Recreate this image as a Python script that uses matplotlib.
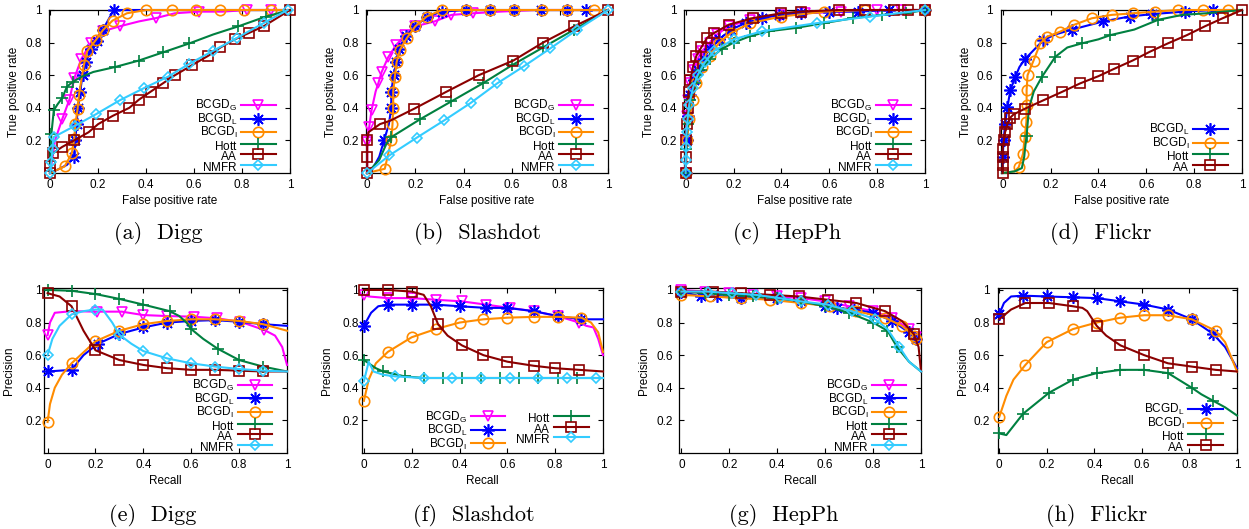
import matplotlib
matplotlib.use('Agg')
import matplotlib.pyplot as plt
from matplotlib.lines import Line2D

plt.rcParams['font.family'] = ['Liberation Sans', 'DejaVu Sans']

# ---------------- labels ----------------
LABELS = {'G': r'BCGD$_\mathregular{G}$', 'L': r'BCGD$_\mathregular{L}$',
          'I': r'BCGD$_\mathregular{I}$', 'H': r'Hott$_{\,}$', 'A': r'AA$_{\,}$',
          'N': r'NMFR$_{\,}$'}
captions = ['(a)  Digg', '(b)  Slashdot', '(c)  HepPh', '(d)  Flickr',
            '(e)  Digg', '(f)  Slashdot', '(g)  HepPh', '(h)  Flickr']
tick_vals = [0, 0.2, 0.4, 0.6, 0.8, 1]
tick_labels = ['0', '0.2', '0.4', '0.6', '0.8', '1']
ytick_vals = [0.2, 0.4, 0.6, 0.8, 1]
ytick_labels = ['0.2', '0.4', '0.6', '0.8', '1']

# ---------------- (a) Digg ROC ----------------
a_G_x = [0, 0.02, 0.05, 0.08, 0.1, 0.13, 0.17, 0.22, 0.29, 0.37, 0.44, 0.52, 0.62, 0.72, 0.82, 0.92, 1]
a_G_y = [0, 0.2, 0.33, 0.45, 0.58, 0.7, 0.8, 0.87, 0.9, 0.93, 0.95, 0.98, 0.99, 0.99, 1, 1, 1]
a_G_m = [2, 3, 4, 5, 6, 7, 8, 10, 12, 14, 15]
a_L_x = [0, 0.03, 0.07, 0.1, 0.105, 0.11, 0.115, 0.125, 0.135, 0.15, 0.17, 0.195, 0.22, 0.265, 0.4, 0.6, 0.8, 1]
a_L_y = [0, 0.02, 0.05, 0.1, 0.2, 0.3, 0.4, 0.5, 0.6, 0.68, 0.76, 0.81, 0.88, 1, 1, 1, 1, 1]
a_L_m = [3, 4, 5, 6, 7, 8, 9, 10, 11, 12, 13]
a_I_x = [0, 0.06, 0.09, 0.1, 0.105, 0.114, 0.12, 0.14, 0.155, 0.19, 0.22, 0.26, 0.32, 0.4, 0.51, 0.61, 0.71, 0.81, 0.92, 1]
a_I_y = [0, 0.04, 0.12, 0.21, 0.3, 0.39, 0.48, 0.66, 0.75, 0.815, 0.877, 0.935, 0.98, 1, 1, 1, 1, 1, 1, 1]
a_I_m = list(range(1, 19))
a_H_x = [0, 0, 0.005, 0.015, 0.03, 0.05, 0.07, 0.095, 0.13, 0.18, 0.27, 0.37, 0.47, 0.58, 0.68, 0.785, 0.9, 1]
a_H_y = [0, 0.1, 0.24, 0.385, 0.42, 0.46, 0.53, 0.56, 0.59, 0.62, 0.65, 0.69, 0.74, 0.795, 0.85, 0.9, 0.96, 1]
a_H_m = [2, 3, 5, 6, 7, 10, 11, 12, 13, 15, 16]
a_A_x = [0, 0, 0.01, 0.05, 0.1, 0.16, 0.2, 0.26, 0.33, 0.37, 0.42, 0.47, 0.52, 0.59, 0.66, 0.71, 0.77, 0.83, 0.89, 1]
a_A_y = [0, 0.04, 0.12, 0.16, 0.2, 0.25, 0.3, 0.35, 0.4, 0.45, 0.5, 0.55, 0.6, 0.66, 0.72, 0.77, 0.82, 0.86, 0.9, 1]
a_N_x = [0, 0.005, 0.01, 0.014, 0.104, 0.19, 0.29, 0.39, 0.49, 0.58, 0.68, 0.78, 0.89, 0.99]
a_N_y = [0, 0.07, 0.15, 0.22, 0.29, 0.36, 0.446, 0.52, 0.59, 0.67, 0.75, 0.83, 0.92, 1]

# ---------------- (b) Slashdot ROC ----------------
b_G_x = [0, 0, 0.008, 0.018, 0.035, 0.046, 0.06, 0.087, 0.12, 0.157, 0.2, 0.28, 0.35, 0.44, 0.55, 0.7, 1]
b_G_y = [0, 0.19, 0.28, 0.385, 0.5, 0.55, 0.62, 0.71, 0.785, 0.846, 0.9, 0.93, 0.97, 0.98, 0.99, 1, 1]
b_G_m = [1, 2, 3, 5, 6, 7, 8, 9, 10, 11, 12, 13]
b_L_x = [0, 0.02, 0.05, 0.07, 0.09, 0.1, 0.1, 0.11, 0.12, 0.13, 0.16, 0.2, 0.25, 0.31, 0.41, 0.51, 0.61, 0.72, 0.83, 0.91, 1]
b_L_y = [0, 0.02, 0.1, 0.2, 0.3, 0.4, 0.5, 0.6, 0.68, 0.76, 0.84, 0.9, 0.96, 0.99, 1, 1, 1, 1, 1, 1, 1]
b_L_m = [3] + list(range(5, 20))
b_I_x = [0, 0.073, 0.1, 0.105, 0.108, 0.108, 0.115, 0.122, 0.136, 0.164, 0.2, 0.247, 0.31, 0.41, 0.51, 0.61, 0.725, 0.83, 0.94, 1]
b_I_y = [0, 0.026, 0.2, 0.3, 0.4, 0.5, 0.59, 0.68, 0.755, 0.826, 0.9, 0.96, 1, 1, 1, 1, 1, 1, 1, 1]
b_I_m = list(range(1, 19))
b_H_x = [0, 0.05, 0.08, 0.1, 0.22, 0.35, 0.48, 0.6, 0.73, 0.86, 1]
b_H_y = [0, 0.08, 0.18, 0.22, 0.33, 0.44, 0.55, 0.66, 0.77, 0.88, 1]
b_H_m = [3, 4, 5, 6, 7, 8, 9]
b_A_x = [0, 0, 0, 0.005, 0.053, 0.094, 0.196, 0.327, 0.463, 0.607, 0.73, 0.86, 1]
b_A_y = [0, 0.1, 0.2, 0.25, 0.3, 0.32, 0.395, 0.497, 0.6, 0.69, 0.8, 0.9, 1]
b_A_m = [0, 1, 2, 4, 6, 7, 8, 9, 10, 11, 12]
b_N_x = [0, 0.092, 0.205, 0.32, 0.43, 0.54, 0.653, 0.76, 0.87, 1]
b_N_y = [0, 0.108, 0.216, 0.323, 0.43, 0.55, 0.657, 0.764, 0.877, 1]

# ---------------- (c) HepPh ROC ----------------
c_G_x = [0, 0.002, 0.005, 0.01, 0.02, 0.035, 0.05, 0.07, 0.1, 0.13, 0.18, 0.27, 0.4, 0.5, 0.65, 0.8, 0.9, 1]
c_G_y = [0, 0.2, 0.35, 0.45, 0.55, 0.63, 0.7, 0.75, 0.8, 0.85, 0.9, 0.94, 0.97, 0.98, 0.99, 1, 1, 1]
c_L_x = [0, 0.004, 0.01, 0.02, 0.035, 0.05, 0.075, 0.1, 0.14, 0.19, 0.25, 0.32, 0.39, 0.48, 0.6, 0.72, 0.85, 1]
c_L_y = [0, 0.2, 0.35, 0.48, 0.57, 0.63, 0.7, 0.76, 0.82, 0.88, 0.92, 0.95, 0.97, 0.98, 0.99, 0.99, 1, 1]
c_I_x = [0, 0.005, 0.015, 0.03, 0.045, 0.07, 0.1, 0.14, 0.19, 0.27, 0.4, 0.58, 0.75, 1]
c_I_y = [0, 0.2, 0.33, 0.45, 0.55, 0.65, 0.72, 0.8, 0.86, 0.92, 0.96, 0.99, 1, 1]
c_H_x = [0, 0.003, 0.008, 0.02, 0.04, 0.065, 0.1, 0.15, 0.2, 0.27, 0.35, 0.46, 0.58, 0.7, 0.82, 0.92, 1]
c_H_y = [0, 0.15, 0.3, 0.45, 0.55, 0.63, 0.7, 0.76, 0.8, 0.84, 0.87, 0.89, 0.92, 0.95, 0.97, 0.98, 1]
c_A_x = [0, 0, 0.002, 0.004, 0.008, 0.012, 0.02, 0.03, 0.045, 0.065, 0.09, 0.12, 0.18, 0.28, 0.4, 0.48, 0.64, 0.75, 0.87, 0.93, 1]
c_A_y = [0, 0.1, 0.2, 0.3, 0.4, 0.5, 0.57, 0.65, 0.72, 0.77, 0.83, 0.86, 0.91, 0.95, 0.98, 0.99, 1, 1, 1, 1, 1]
c_N_x = [0, 0, 0.002, 0.004, 0.008, 0.015, 0.03, 0.05, 0.08, 0.12, 0.2, 0.32, 0.55, 0.77, 1]
c_N_y = [0, 0.08, 0.16, 0.25, 0.33, 0.42, 0.52, 0.6, 0.68, 0.75, 0.82, 0.87, 0.92, 0.96, 1]

# ---------------- (d) Flickr ROC ----------------
d_L_x = [0, 0, 0.004, 0.01, 0.02, 0.032, 0.053, 0.07, 0.094, 0.17, 0.22, 0.29, 0.42, 0.53, 0.626, 0.76, 0.88, 1]
d_L_y = [0, 0.1, 0.2, 0.3, 0.405, 0.508, 0.59, 0.65, 0.7, 0.815, 0.85, 0.88, 0.93, 0.96, 0.975, 0.99, 1, 1]
d_L_m = [1, 2, 3, 4, 5, 6, 8, 9, 11, 12, 13, 14, 15, 16]
d_I_x = [0, 0.05, 0.067, 0.085, 0.092, 0.099, 0.1, 0.1, 0.104, 0.129, 0.157, 0.185, 0.24, 0.296, 0.372, 0.455, 0.546, 0.636, 0.733, 0.837, 0.94, 1]
d_I_y = [0, 0.01, 0.036, 0.118, 0.22, 0.313, 0.415, 0.508, 0.6, 0.69, 0.795, 0.836, 0.867, 0.908, 0.949, 0.97, 0.98, 0.99, 1, 1, 1, 1]
d_I_m = list(range(2, 21))
d_H_x = [0, 0.05, 0.08, 0.09, 0.095, 0.1, 0.11, 0.13, 0.164, 0.22, 0.27, 0.33, 0.4, 0.45, 0.55, 0.65, 0.75, 0.85, 1]
d_H_y = [0, 0.01, 0.03, 0.1, 0.17, 0.23, 0.4, 0.5, 0.59, 0.713, 0.77, 0.795, 0.82, 0.846, 0.88, 0.94, 0.97, 0.98, 1]
d_H_m = [5, 8, 9, 11, 13, 15]
d_A_x = [0, 0, 0, 0, 0.005, 0.01, 0.02, 0.032, 0.046, 0.094, 0.17, 0.247, 0.324, 0.4, 0.467, 0.543, 0.615, 0.69, 0.77, 0.845, 0.92, 1]
d_A_y = [0, 0.05, 0.1, 0.15, 0.2, 0.25, 0.3, 0.34, 0.36, 0.395, 0.446, 0.497, 0.55, 0.594, 0.64, 0.69, 0.744, 0.795, 0.846, 0.9, 0.95, 1]

# ---------------- (e) Digg PR ----------------
e_G_x = [0, 0.01, 0.03, 0.1, 0.205, 0.31, 0.4, 0.5, 0.61, 0.707, 0.805, 0.906, 0.95, 0.98, 1]
e_G_y = [0.723, 0.8, 0.86, 0.87, 0.867, 0.867, 0.846, 0.84, 0.836, 0.826, 0.805, 0.754, 0.72, 0.65, 0.54]
e_G_m = [0, 4, 5, 6, 7, 8, 9, 10, 11]
e_L_x = [0, 0.1, 0.15, 0.21, 0.3, 0.4, 0.5, 0.6, 0.7, 0.8, 0.9, 1]
e_L_y = [0.5, 0.51, 0.6, 0.67, 0.73, 0.77, 0.8, 0.81, 0.815, 0.805, 0.79, 0.78]
e_L_m = [0, 1, 3, 4, 5, 6, 7, 8, 9, 10]
e_I_x = [0, 0.01, 0.03, 0.06, 0.1, 0.2, 0.3, 0.4, 0.5, 0.6, 0.7, 0.8, 0.9, 1]
e_I_y = [0.19, 0.3, 0.4, 0.48, 0.55, 0.685, 0.75, 0.79, 0.81, 0.82, 0.82, 0.81, 0.79, 0.75]
e_I_m = [0, 4, 5, 6, 7, 8, 9, 10, 11, 12]
e_H_x = [0, 0.1, 0.2, 0.3, 0.4, 0.51, 0.55, 0.58, 0.6, 0.65, 0.71, 0.8, 0.9, 1]
e_H_y = [1, 0.995, 0.975, 0.945, 0.91, 0.87, 0.84, 0.8, 0.76, 0.7, 0.64, 0.57, 0.53, 0.5]
e_H_m = [0, 1, 2, 3, 4, 5, 8, 10, 11, 12]
e_A_x = [0, 0.05, 0.1, 0.15, 0.2, 0.3, 0.4, 0.5, 0.6, 0.7, 0.8, 0.9, 1]
e_A_y = [0.98, 0.96, 0.9, 0.75, 0.63, 0.57, 0.54, 0.52, 0.51, 0.51, 0.505, 0.5, 0.5]
e_A_m = [0, 2, 4, 5, 6, 7, 8, 9, 10, 11]
e_N_x = [0, 0.02, 0.05, 0.1, 0.15, 0.2, 0.23, 0.27, 0.3, 0.35, 0.4, 0.5, 0.6, 0.7, 0.8, 0.9, 1]
e_N_y = [0.6, 0.7, 0.78, 0.85, 0.87, 0.88, 0.88, 0.8, 0.725, 0.67, 0.625, 0.58, 0.55, 0.53, 0.515, 0.505, 0.5]
e_N_m = [0, 3, 5, 8, 10, 11, 12, 13, 14, 15]

# ---------------- (f) Slashdot PR ----------------
f_G_x = [0, 0.02, 0.1, 0.2, 0.3, 0.41, 0.51, 0.61, 0.71, 0.81, 0.9, 0.93, 0.96, 0.98, 1]
f_G_y = [0.97, 0.96, 0.95, 0.95, 0.94, 0.93, 0.91, 0.89, 0.87, 0.84, 0.8, 0.78, 0.77, 0.7, 0.6]
f_G_m = [0, 2, 3, 4, 5, 6, 7, 8, 9, 10]
f_L_x = [0, 0.03, 0.06, 0.1, 0.2, 0.3, 0.4, 0.51, 0.6, 0.71, 0.81, 0.91, 1]
f_L_y = [0.78, 0.86, 0.9, 0.91, 0.91, 0.91, 0.9, 0.89, 0.89, 0.87, 0.84, 0.82, 0.82]
f_L_m = [0, 3, 4, 5, 6, 7, 8, 9, 10, 11]
f_I_x = [0, 0.02, 0.05, 0.1, 0.2, 0.3, 0.4, 0.5, 0.6, 0.71, 0.81, 0.91, 0.95, 0.98, 1]
f_I_y = [0.32, 0.45, 0.55, 0.62, 0.71, 0.76, 0.8, 0.82, 0.83, 0.835, 0.835, 0.83, 0.8, 0.74, 0.62]
f_I_m = [0, 3, 4, 5, 6, 7, 8, 9, 10, 11]
f_H_x = [0, 0.05, 0.08, 0.17, 0.25, 0.33, 0.41, 0.49, 0.57, 0.65, 0.73, 0.81, 0.89, 1]
f_H_y = [0.57, 0.52, 0.5, 0.47, 0.46, 0.46, 0.46, 0.46, 0.46, 0.46, 0.46, 0.46, 0.46, 0.46]
f_H_m = [0, 2, 3, 4, 5, 6, 7, 8, 9, 10, 11, 12]
f_A_x = [0, 0.1, 0.2, 0.25, 0.28, 0.31, 0.35, 0.41, 0.5, 0.6, 0.71, 0.8, 0.9, 1]
f_A_y = [1, 1, 0.99, 0.97, 0.9, 0.79, 0.72, 0.66, 0.6, 0.56, 0.535, 0.52, 0.51, 0.5]
f_A_m = [0, 1, 2, 5, 7, 8, 9, 10, 11, 12]
f_N_x = [0, 0.01, 0.02, 0.04, 0.08, 0.13, 0.25, 0.37, 0.49, 0.61, 0.73, 0.85, 0.97, 1]
f_N_y = [0.44, 0.5, 0.56, 0.5, 0.48, 0.47, 0.46, 0.46, 0.46, 0.46, 0.46, 0.46, 0.46, 0.46]
f_N_m = [0, 5, 6, 7, 8, 9, 10, 11, 12]

# ---------------- (g) HepPh PR ----------------
g_G_x = [0, 0.1, 0.2, 0.3, 0.4, 0.5, 0.6, 0.7, 0.8, 0.88, 0.95, 0.98]
g_G_y = [1, 0.99, 0.98, 0.97, 0.96, 0.95, 0.93, 0.9, 0.87, 0.83, 0.76, 0.71]
g_L_x = [0, 0.08, 0.15, 0.25, 0.4, 0.5, 0.6, 0.65, 0.72, 0.8, 0.88, 0.95, 0.98]
g_L_y = [0.99, 0.96, 0.96, 0.95, 0.95, 0.93, 0.9, 0.89, 0.88, 0.86, 0.81, 0.74, 0.7]
g_I_x = [0, 0.12, 0.25, 0.37, 0.5, 0.62, 0.73, 0.85, 0.92, 0.97, 0.98]
g_I_y = [0.97, 0.96, 0.95, 0.94, 0.92, 0.9, 0.87, 0.83, 0.78, 0.72, 0.7]
g_H_x = [0, 0.1, 0.2, 0.3, 0.4, 0.5, 0.6, 0.7, 0.8, 0.86, 0.9, 0.95, 1]
g_H_y = [0.99, 0.98, 0.97, 0.96, 0.95, 0.93, 0.9, 0.86, 0.8, 0.75, 0.65, 0.56, 0.5]
g_H_m = list(range(0, 11))
g_A_x = [0, 0.13, 0.25, 0.37, 0.49, 0.61, 0.73, 0.85, 0.92, 0.97, 0.99, 1]
g_A_y = [0.99, 0.99, 0.98, 0.97, 0.96, 0.94, 0.92, 0.87, 0.81, 0.73, 0.65, 0.5]
g_A_m = [0, 1, 2, 3, 4, 5, 6, 7, 9]
g_N_x = [0, 0.11, 0.21, 0.31, 0.41, 0.5, 0.61, 0.71, 0.81, 0.86, 0.91, 0.95, 1]
g_N_y = [0.99, 0.99, 0.98, 0.97, 0.95, 0.93, 0.91, 0.87, 0.82, 0.76, 0.65, 0.56, 0.5]
g_N_m = [0, 1, 2, 3, 4, 5, 6, 7, 8, 10]

# ---------------- (h) Flickr PR ----------------
h_L_x = [0, 0.02, 0.05, 0.1, 0.2, 0.31, 0.41, 0.51, 0.61, 0.71, 0.81, 0.9, 0.95, 1]
h_L_y = [0.85, 0.92, 0.96, 0.965, 0.96, 0.955, 0.95, 0.93, 0.91, 0.88, 0.82, 0.73, 0.65, 0.52]
h_L_m = [0, 3, 4, 5, 6, 7, 8, 9, 10, 11]
h_I_x = [0, 0.03, 0.06, 0.11, 0.2, 0.31, 0.41, 0.51, 0.61, 0.71, 0.81, 0.91, 0.95, 1]
h_I_y = [0.22, 0.35, 0.45, 0.54, 0.68, 0.76, 0.8, 0.83, 0.845, 0.845, 0.82, 0.75, 0.68, 0.5]
h_I_m = [0, 3, 4, 5, 6, 7, 8, 9, 10, 11]
h_H_x = [0, 0.03, 0.1, 0.21, 0.31, 0.41, 0.51, 0.61, 0.71, 0.81, 0.85, 0.9, 0.95, 1]
h_H_y = [0.12, 0.11, 0.24, 0.37, 0.45, 0.49, 0.51, 0.51, 0.49, 0.4, 0.36, 0.32, 0.28, 0.23]
h_H_m = [0, 2, 3, 4, 5, 6, 7, 8, 9, 11]
h_A_x = [0, 0.05, 0.11, 0.21, 0.31, 0.35, 0.37, 0.41, 0.45, 0.51, 0.61, 0.71, 0.81, 0.91, 1]
h_A_y = [0.82, 0.88, 0.92, 0.92, 0.9, 0.89, 0.87, 0.78, 0.72, 0.66, 0.6, 0.55, 0.53, 0.51, 0.5]
h_A_m = [0, 2, 3, 4, 7, 9, 10, 11, 12, 13]

# ---------------- styles ----------------
STYLE = {
    'G': dict(color='#ff00ff', marker='v', ms=7),
    'L': dict(color='#0000ff', marker=(8, 2, 0), ms=9),
    'I': dict(color='#ff8c00', marker='o', ms=7.5),
    'H': dict(color='#008040', marker='+', ms=9),
    'A': dict(color='#8b0000', marker='s', ms=7),
    'N': dict(color='#33ccff', marker='D', ms=5.5),
}
FS = 8.5

W, H = 1249, 529
fig = plt.figure(figsize=(W / 100, H / 100), dpi=100)


def add_ax(L, R, T, B):
    return fig.add_axes([L / W, 1 - B / H, (R - L) / W, (B - T) / H])


panels = [
    # box (L,R,T,B), xleft, ytop, xlabel, ylabel, ypad_px, series, ncol
    ((49, 290, 10, 173), -0.005, 1.0, 'False positive rate', 'True positive rate', 7,
     [('G', a_G_x, a_G_y, a_G_m), ('L', a_L_x, a_L_y, a_L_m), ('I', a_I_x, a_I_y, a_I_m),
      ('H', a_H_x, a_H_y, a_H_m), ('A', a_A_x, a_A_y, None), ('N', a_N_x, a_N_y, None)], 1),
    ((366, 608, 10, 173), -0.005, 1.0, 'False positive rate', 'True positive rate', 7,
     [('G', b_G_x, b_G_y, b_G_m), ('L', b_L_x, b_L_y, b_L_m), ('I', b_I_x, b_I_y, b_I_m),
      ('H', b_H_x, b_H_y, b_H_m), ('A', b_A_x, b_A_y, b_A_m), ('N', b_N_x, b_N_y, None)], 1),
    ((684, 925, 10, 173), -0.007, 1.0, 'False positive rate', 'True positive rate', 7,
     [('G', c_G_x, c_G_y, None), ('L', c_L_x, c_L_y, None), ('I', c_I_x, c_I_y, None),
      ('H', c_H_x, c_H_y, None), ('A', c_A_x, c_A_y, None), ('N', c_N_x, c_N_y, None)], 1),
    ((1001, 1242, 10, 173), -0.007, 1.0, 'False positive rate', 'True positive rate', 8,
     [('L', d_L_x, d_L_y, d_L_m), ('I', d_I_x, d_I_y, d_I_m),
      ('H', d_H_x, d_H_y, d_H_m), ('A', d_A_x, d_A_y, None)], 1),
    ((44, 287, 288, 453), -0.015, 1.012, 'Recall', 'Precision', 2,
     [('G', e_G_x, e_G_y, e_G_m), ('L', e_L_x, e_L_y, e_L_m), ('I', e_I_x, e_I_y, e_I_m),
      ('H', e_H_x, e_H_y, e_H_m), ('A', e_A_x, e_A_y, e_A_m), ('N', e_N_x, e_N_y, e_N_m)], 1),
    ((362, 603, 288, 453), -0.008, 1.012, 'Recall', 'Precision', 3,
     [('G', f_G_x, f_G_y, f_G_m), ('L', f_L_x, f_L_y, f_L_m), ('I', f_I_x, f_I_y, f_I_m),
      ('H', f_H_x, f_H_y, f_H_m), ('A', f_A_x, f_A_y, f_A_m), ('N', f_N_x, f_N_y, f_N_m)], 2),
    ((679, 921, 288, 453), -0.01, 1.012, 'Recall', 'Precision', 6,
     [('G', g_G_x, g_G_y, None), ('L', g_L_x, g_L_y, None), ('I', g_I_x, g_I_y, None),
      ('H', g_H_x, g_H_y, g_H_m), ('A', g_A_x, g_A_y, g_A_m), ('N', g_N_x, g_N_y, g_N_m)], 1),
    ((998, 1237, 288, 453), -0.005, 1.012, 'Recall', 'Precision', 8,
     [('L', h_L_x, h_L_y, h_L_m), ('I', h_I_x, h_I_y, h_I_m),
      ('H', h_H_x, h_H_y, h_H_m), ('A', h_A_x, h_A_y, h_A_m)], 1),
]

cap_pos = [(158, 239), (477, 239), (787, 239), (1101, 239),
           (153, 521), (474, 521), (784, 521), (1097, 521)]

for i, (box, xl, yt, xlab, ylab, ypad, series, ncol) in enumerate(panels):
    ax = add_ax(*box)
    wpx = box[1] - box[0]
    hpx = box[3] - box[2]
    handles, labels = [], []
    for key, xs, ys, marks in series:
        st = STYLE[key]
        ax.plot(xs, ys, color=st['color'], lw=1.5, marker=st['marker'], ms=st['ms'],
                mfc='none', mew=1.2, markevery=marks, clip_on=False, zorder=3)
        handles.append(Line2D([], [], color=st['color'], lw=1.5, marker=st['marker'],
                              ms=st['ms'], mfc='none', mew=1.2))
        labels.append(LABELS[key])
    ax.set_xlim(xl, 1)
    ax.set_ylim(0, yt)
    ax.set_xticks(tick_vals)
    ax.set_xticklabels(tick_labels)
    ax.set_yticks(ytick_vals)
    ax.set_yticklabels(ytick_labels)
    ax.tick_params(direction='in', length=3.5, width=0.8, top=True, right=True,
                   labelsize=FS, colors='black')
    ax.tick_params(axis='x', pad=4.0)
    ax.tick_params(axis='y', pad=ypad * 0.72)
    for s in ax.spines.values():
        s.set_linewidth(0.9)
    ax.set_xlabel(xlab, fontsize=FS)
    ax.set_ylabel(ylab, fontsize=FS)
    ax.xaxis.set_label_coords(0.5, -22.0 / hpx)
    ax.yaxis.set_label_coords(-29.0 / wpx, 0.5)
    ax.legend(handles, labels, loc='lower right', bbox_to_anchor=(0.94, 0.008),
              frameon=False, markerfirst=False, handlelength=2.9, handletextpad=0.35,
              labelspacing=-0.13, borderpad=0, borderaxespad=0, fontsize=FS,
              ncol=ncol, columnspacing=0.8, numpoints=1)
    cx, cy = cap_pos[i]
    fig.text(cx / W, 1 - cy / H, captions[i], fontfamily='cmr10', fontsize=16,
             ha='center', va='baseline')

fig.savefig('out.png', dpi=100)
